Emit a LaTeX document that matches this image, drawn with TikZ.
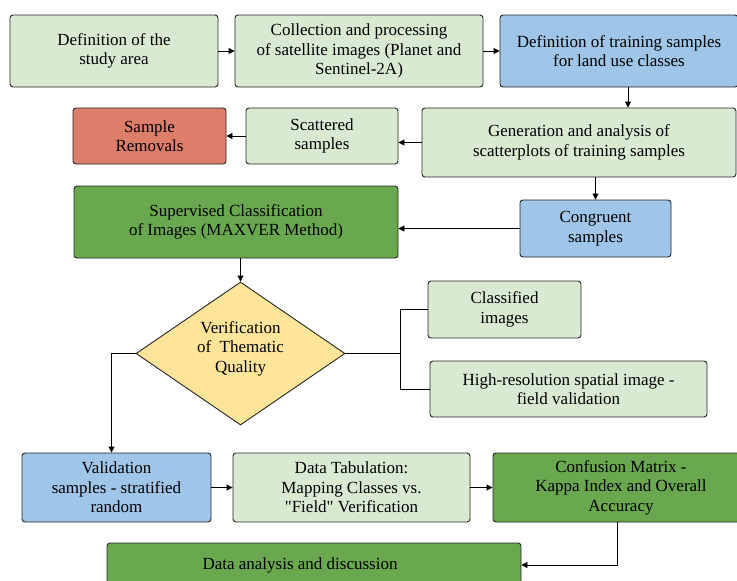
\documentclass[tikz,border=0pt]{standalone}
\usepackage{fontspec}
\setmainfont{Liberation Serif}
\newfontfamily\rawserif{Liberation Serif}
\usetikzlibrary{shapes.geometric,arrows.meta}
\definecolor{lgreen}{HTML}{D9EAD3}
\definecolor{dgreen}{HTML}{6AA84F}
\definecolor{lblue}{HTML}{9FC5E8}
\definecolor{salmon}{HTML}{DD7E6B}
\definecolor{lyellow}{HTML}{FFE599}
\tikzset{
  box/.style={draw=black!85, rounded corners=3pt, align=center, inner sep=1pt, line width=0.9pt},
  flow/.style={-{Triangle[length=6pt,width=6pt]}, line width=0.9pt},
  link/.style={line width=0.9pt}
}
\begin{document}
\begin{tikzpicture}[x=1pt,y=-1pt,font=\fontsize{17}{19.5}\selectfont]
  \clip (0,0) rectangle (737,581);
  \fill[white] (0,0) rectangle (737,581);
  % first row
  \node[box, fill=lgreen, minimum width=208, minimum height=72] (area) at (114,51) {Definition of the\\study area};
  \node[box, fill=lgreen, minimum width=248, minimum height=72] (sat) at (359,51) {Collection and processing\\of satellite images (Planet and\\Sentinel-2A)};
  \node[box, fill=lblue, minimum width=238, minimum height=72] (train) at (619,51) {Definition of training samples\\for land use classes};
  % second row
  \node[box, fill=salmon, minimum width=153, minimum height=56] (rem) at (149.5,136) {Sample\\Removals};
  \node[box, fill=lgreen, minimum width=152, minimum height=56] (scat) at (322,136) {Scattered\\samples};
  \node[box, fill=lgreen, minimum width=314, minimum height=69] (gen) at (579,142.5) {Generation and analysis of\\scatterplots of training samples};
  % third row
  \node[box, fill=dgreen, minimum width=324, minimum height=72] (sup) at (236,222) {Supervised Classification\\of Images (MAXVER Method)};
  \node[box, fill=lblue, minimum width=151, minimum height=57] (cong) at (595.5,228.5) {Congruent\\samples};
  % quality check
  \node[diamond, draw=black!85, fill=lyellow, line width=0.9pt, inner sep=0pt, minimum width=209, minimum height=143] (qual) at (240.5,353.5) {};
  \node[align=center] (qualtxt) at (240.5,348.5) {Verification\\of\ \ Thematic\\Quality};
  \node[box, fill=lgreen, minimum width=153, minimum height=57] (cls) at (504.5,309.5) {Classified\\images};
  \node[box, fill=lgreen, minimum width=277, minimum height=56] (hres) at (568.5,389) {High-resolution spatial image -\\field validation};
  % fifth row
  \node[box, fill=lblue, minimum width=189, minimum height=69] (val) at (116.5,487.5) {Validation\\samples - stratified\\random};
  \node[box, fill=lgreen, minimum width=237, minimum height=69] (tab) at (351.5,487.5) {Data Tabulation:\\Mapping Classes vs.\\{\rawserif"Field"} Verification};
  \node[box, fill=dgreen, minimum width=256, minimum height=69] (conf) at (621,487.5) {Confusion Matrix -\\Kappa Index and Overall\\Accuracy};
  \node[box, fill=dgreen, minimum width=414, minimum height=44] (disc) at (314,565) {};
  \node (disctxt) at (300,565) {Data analysis and discussion};
  % connectors
  \draw[flow] (area) -- (sat);
  \draw[flow] (sat) -- (train);
  \draw[flow] ([xshift=9]train.south) -- ([xshift=9]train.south |- gen.north);
  \draw[flow] (gen.west) -- (gen.west -| scat.east);
  \draw[flow] (scat) -- (rem);
  \draw[flow] (cong.north |- gen.south) -- (cong.north);
  \draw[flow] (cong.west) -- (cong.west -| sup.east);
  \draw[flow] (qual.north |- sup.south) -- (qual.north);
  \coordinate (fork) at (400,353.5);
  \draw[link] (qual.east) -- (fork);
  \draw[link] (cls.west) -| (fork);
  \draw[link] (hres.west) -| (fork);
  \draw[flow] (qual.west) -| ([xshift=-5]val.north);
  \draw[flow] (val) -- (tab);
  \draw[flow] (tab) -- (conf);
  \draw[flow] ([xshift=-4]conf.south) |- (disc.east);
\end{tikzpicture}
\end{document}
